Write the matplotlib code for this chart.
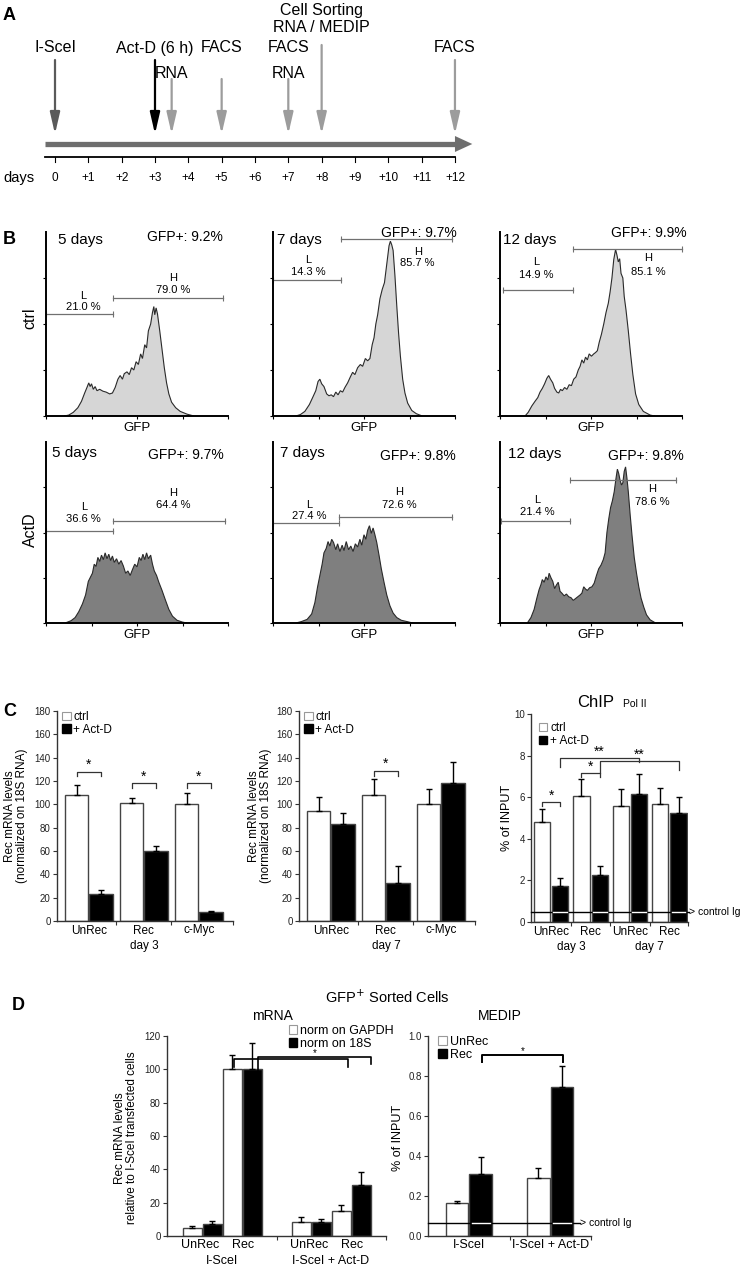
import numpy as np
import matplotlib
matplotlib.use("Agg")
import matplotlib.pyplot as plt
from matplotlib.patches import Patch

plt.rcParams['font.family'] = ['Liberation Sans', 'DejaVu Sans']
NARROW = ['Liberation Sans Narrow', 'Liberation Sans', 'DejaVu Sans']

# ---------------- data ----------------
# panel A: timeline
day_ticks = list(range(13))
day_labels = ['0'] + ['+%d' % d for d in range(1, 13)]
event_days = [0, 3, 3.5, 5, 7, 8, 12]
event_colors = ['#5a5a5a', 'black', '#9c9c9c', '#9c9c9c', '#9c9c9c', '#9c9c9c', '#9c9c9c']
event_tops = [60, 60, 79, 79, 79, 45, 60]
label_days = [0, 3, 3.5, 5, 7, 7, 8, 8, 12]
label_texts = ['I-SceI', 'Act-D (6 h)', 'RNA', 'FACS', 'FACS', 'RNA', 'Cell Sorting', 'RNA / MEDIP', 'FACS']
label_rows = [48, 48, 73, 48, 48, 73, 10, 28, 48]

# panel B: GFP histograms (x, height)
ctrl5_x = [0.40, 0.50, 0.60, 0.70, 0.78, 0.85, 0.90, 0.94, 0.97, 1.00, 1.04, 1.08, 1.12, 1.18, 1.25,
           1.32, 1.40, 1.46, 1.52, 1.58, 1.63, 1.68, 1.72, 1.78, 1.83, 1.88, 1.93, 1.98, 2.03, 2.08,
           2.12, 2.17, 2.21, 2.25, 2.30, 2.34, 2.37, 2.39, 2.42, 2.45, 2.50, 2.55, 2.60, 2.65, 2.70,
           2.76, 2.85, 2.95, 3.10, 3.25]
ctrl5_y = [0, 0.02, 0.08, 0.18, 0.32, 0.50, 0.62, 0.72, 0.64, 0.70, 0.58, 0.64, 0.55, 0.58, 0.54,
           0.52, 0.48, 0.50, 0.62, 0.80, 0.88, 0.80, 0.92, 0.96, 0.90, 1.05, 1.00, 1.18, 1.12, 1.35,
           1.25, 1.55, 1.48, 1.85, 2.00, 2.25, 2.38, 2.20, 2.35, 2.22, 1.85, 1.45, 1.05, 0.72, 0.48,
           0.30, 0.18, 0.10, 0.04, 0]
ctrl7_x = [0.50, 0.60, 0.70, 0.80, 0.88, 0.94, 0.99, 1.03, 1.07, 1.12, 1.18, 1.23, 1.28, 1.33, 1.38,
           1.43, 1.48, 1.53, 1.58, 1.64, 1.70, 1.75, 1.80, 1.86, 1.92, 1.97, 2.03, 2.08, 2.13, 2.18,
           2.22, 2.26, 2.30, 2.35, 2.40, 2.45, 2.50, 2.55, 2.58, 2.61, 2.64, 2.68, 2.72, 2.76, 2.80,
           2.85, 2.90, 2.96, 3.05, 3.15, 3.28]
ctrl7_y = [0, 0.03, 0.10, 0.25, 0.42, 0.55, 0.75, 0.80, 0.70, 0.64, 0.48, 0.44, 0.46, 0.42, 0.52,
           0.46, 0.55, 0.52, 0.62, 0.72, 0.85, 0.95, 0.90, 1.05, 1.12, 1.08, 1.25, 1.20, 1.25, 1.55,
           1.70, 2.00, 2.20, 2.55, 2.75, 2.90, 3.30, 3.70, 3.80, 3.72, 3.60, 3.05, 2.40, 1.80, 1.30,
           0.80, 0.50, 0.28, 0.12, 0.05, 0]
ctrl12_x = [0.55, 0.62, 0.70, 0.77, 0.83, 0.88, 0.93, 0.98, 1.03, 1.07, 1.11, 1.16, 1.20, 1.25, 1.29,
            1.33, 1.37, 1.42, 1.47, 1.52, 1.57, 1.62, 1.67, 1.72, 1.76, 1.80, 1.84, 1.88, 1.92, 1.96,
            2.01, 2.06, 2.10, 2.14, 2.18, 2.23, 2.28, 2.33, 2.38, 2.42, 2.46, 2.50, 2.54, 2.57, 2.60,
            2.63, 2.66, 2.70, 2.73, 2.77, 2.82, 2.87, 2.92, 2.98, 3.05, 3.15, 3.30, 3.40]
ctrl12_y = [0, 0.08, 0.22, 0.32, 0.40, 0.52, 0.60, 0.70, 0.82, 0.88, 0.80, 0.72, 0.60, 0.52, 0.50,
            0.58, 0.55, 0.62, 0.58, 0.68, 0.66, 0.80, 0.85, 1.00, 1.08, 1.22, 1.15, 1.28, 1.22, 1.35,
            1.30, 1.35, 1.38, 1.42, 1.60, 1.78, 2.00, 2.25, 2.45, 2.70, 3.00, 3.40, 3.62, 3.50, 3.35,
            3.42, 3.10, 3.00, 2.60, 2.30, 1.85, 1.35, 0.90, 0.48, 0.25, 0.10, 0.02, 0]
actd5_x = [0.42, 0.55, 0.64, 0.72, 0.80, 0.87, 0.93, 0.97, 1.02, 1.06, 1.10, 1.14, 1.18, 1.22, 1.26,
           1.30, 1.34, 1.38, 1.42, 1.46, 1.50, 1.55, 1.60, 1.65, 1.70, 1.75, 1.80, 1.85, 1.90, 1.95,
           2.00, 2.05, 2.09, 2.13, 2.17, 2.21, 2.25, 2.30, 2.34, 2.38, 2.43, 2.48, 2.55, 2.62, 2.70,
           2.78, 2.88, 3.00, 3.10]
actd5_y = [0, 0.05, 0.12, 0.25, 0.42, 0.62, 0.92, 1.00, 1.10, 1.30, 1.25, 1.45, 1.36, 1.50, 1.40,
           1.55, 1.42, 1.52, 1.38, 1.48, 1.34, 1.42, 1.30, 1.38, 1.26, 1.10, 1.15, 1.05, 1.18, 1.30,
           1.24, 1.45, 1.38, 1.52, 1.40, 1.55, 1.42, 1.50, 1.30, 1.15, 1.05, 0.90, 0.72, 0.52, 0.30,
           0.15, 0.06, 0.02, 0]
actd7_x = [0.50, 0.62, 0.75, 0.85, 0.92, 0.98, 1.03, 1.08, 1.12, 1.17, 1.21, 1.25, 1.29, 1.33, 1.38,
           1.42, 1.47, 1.52, 1.56, 1.61, 1.66, 1.71, 1.76, 1.81, 1.86, 1.91, 1.95, 2.00, 2.04, 2.08,
           2.12, 2.16, 2.20, 2.24, 2.28, 2.33, 2.38, 2.44, 2.50, 2.57, 2.64, 2.72, 2.82, 2.95, 3.07]
actd7_y = [0, 0.03, 0.08, 0.20, 0.45, 0.80, 1.05, 1.30, 1.55, 1.65, 1.80, 1.70, 1.85, 1.78, 1.62,
           1.75, 1.58, 1.72, 1.60, 1.80, 1.62, 1.70, 1.58, 1.75, 1.68, 1.85, 1.72, 1.95, 1.85, 2.05,
           2.15, 1.98, 2.10, 1.95, 1.78, 1.50, 1.20, 0.90, 0.62, 0.38, 0.22, 0.12, 0.06, 0.03, 0]
actd12_x = [0.60, 0.68, 0.75, 0.81, 0.86, 0.90, 0.93, 0.97, 1.01, 1.05, 1.08, 1.12, 1.16, 1.20, 1.24,
            1.28, 1.32, 1.36, 1.41, 1.46, 1.51, 1.56, 1.61, 1.66, 1.71, 1.76, 1.80, 1.84, 1.88, 1.92,
            1.97, 2.02, 2.07, 2.12, 2.17, 2.22, 2.27, 2.31, 2.35, 2.39, 2.43, 2.47, 2.51, 2.55, 2.58,
            2.61, 2.64, 2.67, 2.70, 2.73, 2.76, 2.79, 2.82, 2.86, 2.90, 2.95, 3.00, 3.05, 3.10, 3.16,
            3.22, 3.30, 3.42]
actd12_y = [0, 0.12, 0.30, 0.55, 0.74, 0.85, 0.96, 0.90, 1.02, 0.95, 1.10, 1.00, 0.92, 0.76, 0.84,
            0.90, 0.70, 0.66, 0.60, 0.64, 0.58, 0.56, 0.50, 0.54, 0.58, 0.62, 0.66, 0.80, 0.75, 0.72,
            0.78, 0.80, 0.88, 1.05, 1.20, 1.28, 1.40, 1.55, 2.00, 2.30, 2.55, 2.70, 2.90, 3.20, 3.40,
            3.30, 3.15, 3.05, 3.10, 3.35, 3.45, 3.20, 2.90, 2.40, 1.95, 1.45, 1.10, 0.80, 0.55, 0.35,
            0.18, 0.07, 0]
b_days = ['5 days', '7 days', '12 days']
gfp_ctrl = [9.2, 9.7, 9.9]
gfp_actd = [9.7, 9.8, 9.8]
low_ctrl = [21.0, 14.3, 14.9]
high_ctrl = [79.0, 85.7, 85.1]
low_actd = [36.6, 27.4, 21.4]
high_actd = [64.4, 72.6, 78.6]

# panel C: RT-qPCR day 3 / day 7 and ChIP Pol II
c_genes = ['UnRec', 'Rec', 'c-Myc']
d3_ctrl = [108, 101, 100]
d3_ctrl_err = [8.5, 4.5, 9.5]
d3_actd = [23, 60, 8]
d3_actd_err = [3.5, 4.5, 1.0]
d7_ctrl = [94, 108, 100]
d7_ctrl_err = [12, 14, 13]
d7_actd = [83, 33, 118]
d7_actd_err = [10, 14, 18]
chip_groups = ['UnRec', 'Rec', 'UnRec', 'Rec']
chip_ctrl = [4.8, 6.07, 5.58, 5.65]
chip_ctrl_err = [0.65, 0.8, 0.8, 0.8]
chip_actd = [1.75, 2.25, 6.15, 5.25]
chip_actd_err = [0.37, 0.45, 0.95, 0.75]
chip_igg = 0.48

# panel D: sorted cells
d_groups = ['I-SceI', 'I-SceI + Act-D']
unrec_gapdh = [4.6, 8.6]
unrec_gapdh_err = [1.2, 2.6]
unrec_18s = [7.2, 8.2]
unrec_18s_err = [1.8, 2.2]
rec_gapdh = [100, 15]
rec_gapdh_err = [8.4, 3.4]
rec_18s = [100, 30.8]
rec_18s_err = [15.6, 7.8]
medip_unrec = [0.163, 0.29]
medip_unrec_err = [0.012, 0.05]
medip_rec = [0.31, 0.745]
medip_rec_err = [0.085, 0.105]
medip_igg = 0.065

# ---------------- figure ----------------
W, H = 750, 1266
fig = plt.figure(figsize=(W / 100, H / 100), dpi=100)
fig.patch.set_facecolor('white')


def px_axes(left, top, right, bottom):
    return fig.add_axes([left / W, 1 - bottom / H, (right - left) / W, (bottom - top) / H])


def ftext(x, y, s, **kw):
    kw.setdefault('ha', 'center')
    kw.setdefault('va', 'center')
    fig.text(x / W, 1 - y / H, s, **kw)


for letter, lx, ly in [('A', 3, 15), ('B', 3, 240), ('C', 3, 711), ('D', 12, 1006)]:
    ftext(lx, ly, letter, ha='left', fontsize=13, fontweight='bold')

# ---- A: timeline ----
DAY0, DAYPX = 55, 33.33
axA = px_axes(0, 0, W, 190)
axA.set_xlim(-DAY0 / DAYPX, (W - DAY0) / DAYPX)
axA.set_ylim(190, 0)
axA.axis('off')
axA.plot([-0.3, 12.0], [144, 144], color='#6e6e6e', lw=3.8, solid_capstyle='butt')
axA.fill([12.0, 12.52, 12.0], [136, 144, 152], color='#6e6e6e', lw=0)
axA.plot([-0.3, 12.0], [157, 157], color='black', lw=1.3)
for d, lab in zip(day_ticks, day_labels):
    axA.plot([d, d], [157, 162], color='black', lw=0.8)
    axA.text(d, 178, lab, ha='center', va='center', fontsize=8.5, family=NARROW)
axA.text(-1.55, 178, 'days', ha='left', va='center', fontsize=10.5, family=NARROW)
for d, c, top in zip(event_days, event_colors, event_tops):
    axA.annotate('', xy=(d, 134), xytext=(d, top),
                 arrowprops=dict(arrowstyle='-|>,head_length=1.3,head_width=0.3', color=c,
                                 lw=1.6, mutation_scale=10, shrinkA=0, shrinkB=0))
for d, s, y in zip(label_days, label_texts, label_rows):
    axA.text(d, y, s, ha='center', va='center', fontsize=11.5, family=NARROW)

# ---- B: histograms ----
col_left = [46, 273, 500]
row_box = [(232, 416), (442, 623)]
hists = [[(ctrl5_x, ctrl5_y), (ctrl7_x, ctrl7_y), (ctrl12_x, ctrl12_y)],
         [(actd5_x, actd5_y), (actd7_x, actd7_y), (actd12_x, actd12_y)]]
fills = ['#d6d6d6', '#7f7f7f']
gfp_vals = [gfp_ctrl, gfp_actd]
low_vals = [low_ctrl, low_actd]
high_vals = [high_ctrl, high_actd]
# layout: L gate (x0, x1, y), H gate (x0, x1, y), L label (x, y1, y2), H label (x, y1, y2), day x/y, GFP+ x/y
gates = [
    [((0, 1.48, 2.21), (1.48, 3.89, 2.56), (0.82, 2.60, 2.36), (2.80, 3.00, 2.74), (0.26, 3.83), (3.05, 3.90)),
     ((0, 1.50, 2.96), (1.50, 3.93, 3.85), (0.78, 3.40, 3.14), (3.18, 3.57, 3.33), (0.09, 3.83), (3.20, 3.98)),
     ((0.07, 1.60, 2.75), (1.60, 4.00, 3.64), (0.80, 3.35, 3.07), (3.25, 3.43, 3.14), (0.07, 3.83), (3.28, 3.97))],
    [((0, 1.48, 2.04), (1.48, 3.93, 2.26), (0.83, 2.57, 2.30), (2.80, 2.88, 2.61), (0.13, 3.75), (3.07, 3.71)),
     ((0, 1.44, 2.20), (1.44, 3.93, 2.35), (0.79, 2.61, 2.37), (2.78, 2.89, 2.60), (0.15, 3.75), (3.18, 3.70)),
     ((0.03, 1.54, 2.26), (1.54, 3.86, 3.15), (0.82, 2.72, 2.46), (3.34, 2.96, 2.68), (0.18, 3.74), (3.21, 3.70))],
]
for r, (top, bot) in enumerate(row_box):
    for c, left in enumerate(col_left):
        ax = px_axes(left, top, left + 182, bot)
        hx, hy = hists[r][c]
        ax.fill(hx, hy, facecolor=fills[r], edgecolor='#2a2a2a', lw=0.8)
        ax.set_xlim(0, 4)
        ax.set_ylim(0, 4)
        for s in ['top', 'right']:
            ax.spines[s].set_visible(False)
        ax.spines['left'].set_linewidth(1.4)
        ax.spines['bottom'].set_linewidth(1.4)
        ax.set_xticks([0, 1, 2, 3, 4])
        ax.set_yticks([0, 1, 2, 3])
        ax.tick_params(direction='out', length=2.5, width=0.8, labelbottom=False, labelleft=False)
        gl, gh, ll, hl, dpos, gpos = gates[r][c]
        for g in (gl, gh):
            ax.plot([g[0], g[1]], [g[2], g[2]], color='#707070', lw=0.9, marker='|', ms=4,
                    mew=0.8, clip_on=False)
        ax.text(ll[0], ll[1], 'L', ha='center', va='center', fontsize=8)
        ax.text(ll[0], ll[2], '%.1f %%' % low_vals[r][c], ha='center', va='center', fontsize=8)
        ax.text(hl[0], hl[1], 'H', ha='center', va='center', fontsize=8)
        ax.text(hl[0], hl[2], '%.1f %%' % high_vals[r][c], ha='center', va='center', fontsize=8)
        ax.text(dpos[0], dpos[1], b_days[c], ha='left', va='center', fontsize=11)
        ax.text(gpos[0], gpos[1], 'GFP+: %.1f%%' % gfp_vals[r][c], ha='center', va='center', fontsize=10)
        ftext(left + 91, bot + 12, 'GFP', fontsize=9.5)
ftext(30, 318, 'ctrl', rotation=90, fontsize=11.5)
ftext(30, 530, 'ActD', rotation=90, fontsize=11.5)


# ---- helpers for bar charts ----
def style_axes(ax, ylim, yticks, ylabels, xlim, xticks):
    for s in ['top', 'right']:
        ax.spines[s].set_visible(False)
    for s in ['left', 'bottom']:
        ax.spines[s].set_linewidth(1.0)
        ax.spines[s].set_color('#333333')
    ax.set_xlim(xlim)
    ax.set_ylim(ylim)
    ax.set_yticks(yticks)
    ax.set_yticklabels(ylabels)
    ax.set_xticks(xticks)
    ax.tick_params(axis='y', direction='out', length=3, width=0.8, pad=1.5, labelsize=7,
                   labelcolor='#222222', color='#333333')
    ax.tick_params(axis='x', direction='out', length=3, width=0.8, labelbottom=False, color='#333333')


def draw_bars(ax, xs, vals, errs, color, width):
    ax.bar(xs, vals, width, color=color, edgecolor='#444444', lw=1, zorder=2)
    ax.errorbar(xs, vals, yerr=[np.zeros(len(vals)), errs], fmt='none', ecolor='black',
                elinewidth=1, capsize=2.5, capthick=1, zorder=3)


def add_legend(ax, labels, bx, by, fs=8.5):
    hnd = [Patch(facecolor='white', edgecolor='#999999', lw=0.8), Patch(facecolor='black', edgecolor='black')]
    ax.legend(hnd, labels, loc='upper left', bbox_to_anchor=(bx, by), frameon=False, fontsize=fs,
              handlelength=0.7, handleheight=0.7, handletextpad=0.25, labelspacing=0.05,
              borderpad=0, borderaxespad=0)


def bracket(ax, x0, x1, y, d0, d1, star, dy, fs=10, lw=0.9, color='#333333'):
    ax.plot([x0, x0, x1, x1], [y - d0, y, y, y - d1], color=color, lw=lw, clip_on=False, zorder=4)
    ax.text((x0 + x1) / 2, y + dy, star, ha='center', va='center', fontsize=fs)


def xlab(ax, x, s, dy, fs=8.5):
    ax.annotate(s, xy=(x, 0), xytext=(0, dy), textcoords='offset points', ha='center', va='top',
                fontsize=fs, annotation_clip=False)


def igg_line(ax, y, x0, x1, black_x, width):
    ax.plot([x0, x1], [y, y], color='black', lw=1, clip_on=False, zorder=5)
    for xb in black_x:
        ax.plot([xb - width / 2 + 0.03, xb + width / 2 - 0.03], [y, y], color='white', lw=1, zorder=6)
    ax.text(x1, y, '> control Ig', ha='left', va='center', fontsize=7.5)


# ---- C1 / C2 ----
OFF, BW = 0.22, 0.42
for left, ctrl, ce, act, ae, day, sig in [
        (57, d3_ctrl, d3_ctrl_err, d3_actd, d3_actd_err, 'day 3', [(0, 128), (1, 118), (2, 118)]),
        (299, d7_ctrl, d7_ctrl_err, d7_actd, d7_actd_err, 'day 7', [(1, 128.5)])]:
    ax = px_axes(left, 711, left + 176, 921)
    gx = np.arange(len(c_genes))
    draw_bars(ax, gx - OFF, ctrl, ce, 'white', BW)
    draw_bars(ax, gx + OFF, act, ae, 'black', BW)
    style_axes(ax, (0, 180), range(0, 181, 20), [str(v) for v in range(0, 181, 20)],
               (-0.58, 2.62), [0.5, 1.5, 2.62])
    for i, g in enumerate(c_genes):
        xlab(ax, i, g, -3 if g != 'c-Myc' else -2)
    xlab(ax, 1, day, -14)
    for i, y in sig:
        bracket(ax, i - OFF, i + OFF, y, 4, 4, '*', 6)
    add_legend(ax, ['ctrl', '+ Act-D'], 0.03, 1.0)
ftext(16, 816, 'Rec mRNA levels\n(normalized on 18S RNA)', rotation=90, fontsize=8.5, linespacing=0.95)
ftext(260, 816, 'Rec mRNA levels\n(normalized on 18S RNA)', rotation=90, fontsize=8.5, linespacing=0.95)

# ---- C3 ChIP ----
OFF3, BW3 = 0.23, 0.41
ax = px_axes(531, 714, 688, 922)
gx = np.arange(len(chip_groups))
draw_bars(ax, gx - OFF3, chip_ctrl, chip_ctrl_err, 'white', BW3)
draw_bars(ax, gx + OFF3, chip_actd, chip_actd_err, 'black', BW3)
style_axes(ax, (0, 10), range(0, 11, 2), [str(v) for v in range(0, 11, 2)],
           (-0.51, 3.47), [0.5, 1.5, 2.5, 3.47])
for i, g in enumerate(chip_groups):
    xlab(ax, i, g, -3)
xlab(ax, 0.5, 'day 3', -14)
xlab(ax, 2.5, 'day 7', -14)
igg_line(ax, chip_igg, -0.51, 3.5, gx + OFF3, BW3)
bracket(ax, 0 - OFF3, 0 + OFF3, 5.77, 0.2, 0.2, '*', 0.3)
bracket(ax, 1 - OFF3, 1 + OFF3, 7.16, 0.2, 0.2, '*', 0.3)
bracket(ax, 0 + OFF3, 2 + OFF3, 7.88, 0.43, 0.2, '**', 0.3)
bracket(ax, 1 + OFF3, 3 + OFF3, 7.74, 0.58, 0.44, '**', 0.3)
add_legend(ax, ['ctrl', '+ Act-D'], 0.05, 0.96)
ax.text(0.41, 1.02, 'ChIP', transform=ax.transAxes, ha='center', va='bottom', fontsize=12)
ax.text(0.585, 1.025, 'Pol II', transform=ax.transAxes, ha='left', va='bottom', fontsize=7.5)
ftext(507, 818, '% of INPUT', rotation=90, fontsize=9)

# ---- D mRNA ----
ftext(387, 997, 'GFP$^{+}$ Sorted Cells', fontsize=10.5)
ftext(272, 1016, 'mRNA', fontsize=10)
ftext(500, 1016, 'MEDIP', fontsize=10)
ax = px_axes(167, 1036, 386, 1236)
gstart = np.array([0, 5.45])
BWD = 0.95
draw_bars(ax, gstart + 0, unrec_gapdh, unrec_gapdh_err, 'white', BWD)
draw_bars(ax, gstart + 1, unrec_18s, unrec_18s_err, 'black', BWD)
draw_bars(ax, gstart + 2, rec_gapdh, rec_gapdh_err, 'white', BWD)
draw_bars(ax, gstart + 3, rec_18s, rec_18s_err, 'black', BWD)
style_axes(ax, (0, 120), range(0, 121, 20), [str(v) for v in range(0, 121, 20)],
           (-1.25, 9.7), [4.25, 9.7])
for gs, gname in zip(gstart, d_groups):
    xlab(ax, gs + 0.4, 'UnRec', -2.5, fs=9)
    xlab(ax, gs + 2.55, 'Rec', -2.5, fs=9)
    xlab(ax, gs + 1.5, gname, -13.5, fs=9)
bracket(ax, gstart[0] + 2.1, gstart[1] + 2.35, 106.4, 4.8, 4.8, '', 0, lw=1.2, color='black')
bracket(ax, gstart[0] + 3.3, gstart[1] + 3.5, 107.6, 8.0, 4.6, '*', 2.2, fs=7, lw=1.2, color='black')
add_legend(ax, ['norm on GAPDH', 'norm on 18S'], 0.555, 1.055, fs=9)
ftext(126, 1138, 'Rec mRNA levels\nrelative to I-SceI transfected cells', rotation=90, fontsize=8.5,
      linespacing=0.95)

# ---- D MEDIP ----
OFFM, BWM = 0.145, 0.28
ax = px_axes(428, 1036, 591, 1236)
gx = np.arange(len(d_groups))
draw_bars(ax, gx - OFFM, medip_unrec, medip_unrec_err, 'white', BWM)
draw_bars(ax, gx + OFFM, medip_rec, medip_rec_err, 'black', BWM)
style_axes(ax, (0, 1.0), np.arange(0, 1.01, 0.2), ['%.1f' % v for v in np.arange(0, 1.01, 0.2)],
           (-0.5, 1.5), [0.5, 1.5])
for i, g in enumerate(d_groups):
    xlab(ax, i, g, -2.5, fs=9)
igg_line(ax, medip_igg, -0.5, 1.37, gx + OFFM, BWM)
bracket(ax, 0 + OFFM + 0.015, 1 + OFFM + 0.015, 0.905, 0.035, 0.035, '*', 0.02, fs=7, lw=1.4,
        color='black')
add_legend(ax, ['UnRec', 'Rec'], 0.06, 1.0, fs=9)
ftext(398, 1138, '% of INPUT', rotation=90, fontsize=9)

fig.savefig('out.png', dpi=100)
